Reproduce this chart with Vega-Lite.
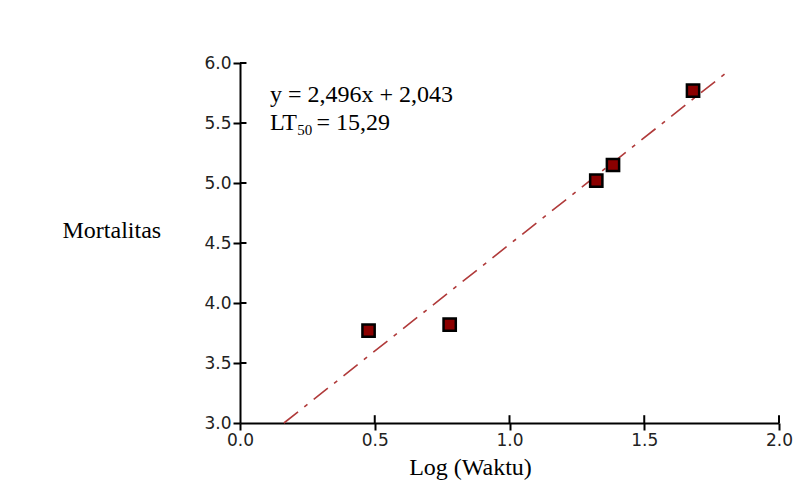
{
  "$schema": "https://vega.github.io/schema/vega-lite/v6.json",
  "width": 539,
  "height": 360,
  "autosize": "none",
  "padding": {"left": 240, "top": 63, "right": 14, "bottom": 70},
  "background": "white",
  "config": {
    "view": {"stroke": null},
    "axis": {
      "grid": false,
      "domainColor": "black",
      "domainWidth": 2,
      "tickColor": "black",
      "tickWidth": 2,
      "tickSize": 7,
      "labelFont": "DejaVu Sans",
      "labelFontSize": 17,
      "labelColor": "#222",
      "labelFlush": false,
      "labelOverlap": false,
      "titleFont": "Liberation Serif",
      "titleFontSize": 24,
      "titleFontWeight": "normal",
      "titleColor": "black"
    }
  },
  "datasets": {
    "points": [
      {"logt": 0.477, "mort": 3.77},
      {"logt": 0.778, "mort": 3.82},
      {"logt": 1.322, "mort": 5.02},
      {"logt": 1.384, "mort": 5.15},
      {"logt": 1.681, "mort": 5.77}
    ],
    "fit": [
      {"logt": 0.163, "mort": 3.0},
      {"logt": 1.805, "mort": 5.92}
    ],
    "xticks": [
      {"v": 0.5, "a": 3.0, "b": 3.065},
      {"v": 1.0, "a": 3.0, "b": 3.065},
      {"v": 1.5, "a": 3.0, "b": 3.065},
      {"v": 2.0, "a": 3.0, "b": 3.065}
    ],
    "yticks": [
      {"v": 3.5, "a": 0.0, "b": 0.024},
      {"v": 4.0, "a": 0.0, "b": 0.024},
      {"v": 4.5, "a": 0.0, "b": 0.024},
      {"v": 5.0, "a": 0.0, "b": 0.024},
      {"v": 5.5, "a": 0.0, "b": 0.024},
      {"v": 6.0, "a": 0.0, "b": 0.024}
    ],
    "notes": [
      {"x": 0.111, "y": 5.675, "label": "y = 2,496x + 2,043"},
      {"x": 0.111, "y": 5.442, "label": "LT"},
      {"x": 0.284, "y": 5.442, "label": "= 15,29"}
    ],
    "subs": [
      {"x": 0.212, "y": 5.4, "label": "50"}
    ]
  },
  "layer": [
    {
      "data": {"name": "fit"},
      "mark": {"type": "line", "color": "#b03a3a", "strokeWidth": 1.6, "strokeDash": [18, 8, 4, 8]},
      "encoding": {
        "x": {
          "field": "logt", "type": "quantitative",
          "scale": {"domain": [0, 2], "nice": false, "zero": false},
          "axis": {
            "values": [0, 0.5, 1, 1.5, 2],
            "format": ".1f",
            "title": "Log (Waktu)",
            "labelPadding": 2,
            "titleX": 230,
            "titleY": 51,
            "titleAnchor": null,
            "titleAlign": "center",
            "titleBaseline": "alphabetic"
          }
        },
        "y": {
          "field": "mort", "type": "quantitative",
          "scale": {"domain": [3, 6], "nice": false, "zero": false},
          "axis": {
            "values": [3, 3.5, 4, 4.5, 5, 5.5, 6],
            "format": ".1f",
            "title": "Mortalitas",
            "labelPadding": 2,
            "titleAngle": 0,
            "titleAlign": "left",
            "titleBaseline": "middle",
            "titleAnchor": null,
            "titleX": -178,
            "titleY": 167
          }
        }
      }
    },
    {
      "data": {"name": "xticks"},
      "mark": {"type": "rule", "color": "black", "strokeWidth": 2},
      "encoding": {
        "x": {"field": "v", "type": "quantitative"},
        "y": {"field": "a", "type": "quantitative"},
        "y2": {"field": "b"}
      }
    },
    {
      "data": {"name": "yticks"},
      "mark": {"type": "rule", "color": "black", "strokeWidth": 2},
      "encoding": {
        "y": {"field": "v", "type": "quantitative"},
        "x": {"field": "a", "type": "quantitative"},
        "x2": {"field": "b"}
      }
    },
    {
      "data": {"name": "points"},
      "mark": {"type": "point", "shape": "square", "filled": true, "fill": "#8b0000", "stroke": "black", "strokeWidth": 2.5, "size": 150, "opacity": 1},
      "encoding": {
        "x": {"field": "logt", "type": "quantitative"},
        "y": {"field": "mort", "type": "quantitative"}
      }
    },
    {
      "data": {"name": "notes"},
      "mark": {"type": "text", "font": "Liberation Serif", "fontSize": 24, "align": "left", "baseline": "alphabetic", "color": "black"},
      "encoding": {
        "x": {"field": "x", "type": "quantitative"},
        "y": {"field": "y", "type": "quantitative"},
        "text": {"field": "label"}
      }
    },
    {
      "data": {"name": "subs"},
      "mark": {"type": "text", "font": "Liberation Serif", "fontSize": 15, "align": "left", "baseline": "alphabetic", "color": "black"},
      "encoding": {
        "x": {"field": "x", "type": "quantitative"},
        "y": {"field": "y", "type": "quantitative"},
        "text": {"field": "label"}
      }
    }
  ]
}
